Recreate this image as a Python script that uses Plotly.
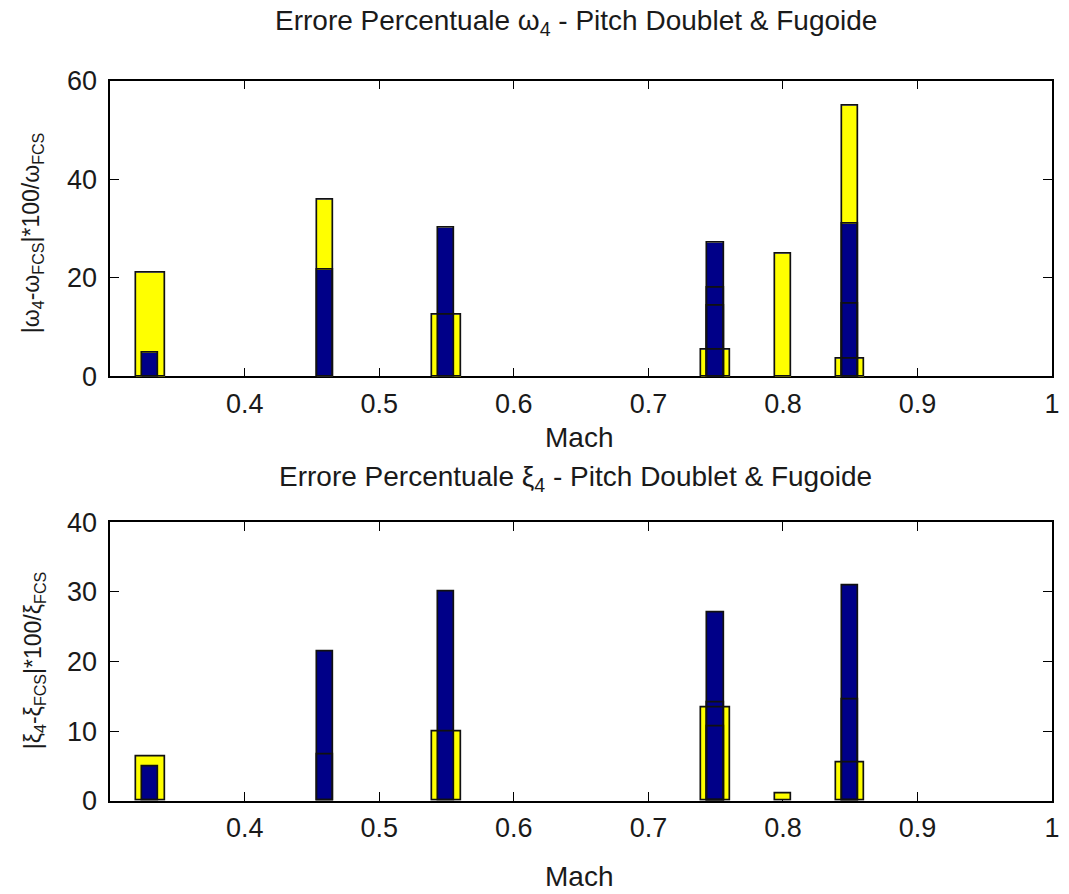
import plotly.graph_objects as go

# Mach numbers of the test points
mach = [0.33, 0.46, 0.55, 0.75, 0.80, 0.85]

# Percentage error on omega_4 (upper panel)
omega_wide = [21.1, None, 12.6, 5.4, None, 3.6]
omega_narrow = [None, 35.8, None, None, 25.0, 55.0]
omega_navy_1 = [4.9, 21.6, 30.2, 27.1, None, 31.0]
omega_navy_2 = [None, None, None, 18.1, None, 14.7]
omega_navy_3 = [None, None, None, 14.3, None, None]

# Percentage error on xi_4 (lower panel)
xi_wide = [6.4, None, 10.0, 13.4, None, 5.5]
xi_narrow = [None, None, None, None, 1.0, None]
xi_navy_1 = [4.9, 21.5, 30.1, 27.0, None, 31.0]
xi_navy_2 = [None, 6.7, None, 14.2, None, 14.6]
xi_navy_3 = [None, None, None, 10.7, None, None]

x_ticks = [0.4, 0.5, 0.6, 0.7, 0.8, 0.9, 1.0]
x_ticktext = ["0.4", "0.5", "0.6", "0.7", "0.8", "0.9", "1"]
omega_ticks = [0, 20, 40, 60]
xi_ticks = [0, 10, 20, 30, 40]

YELLOW = "#FFFF00"
NAVY = "#000088"
EDGE = "#111111"
W_WIDE = 0.021
W_NARROW = 0.012
FONT = "Liberation Sans"
TEXT_COLOR = "#1a1a1a"

fig = go.Figure()


def add_panel(series, xa, ya):
    # faces first, then all outlines on top of every face
    for vals, color, width in series:
        fig.add_trace(go.Bar(x=mach, y=vals, width=width, xaxis=xa, yaxis=ya,
                             marker=dict(color=color, line=dict(width=0)),
                             showlegend=False, hoverinfo="skip"))
    for vals, color, width in series:
        fig.add_trace(go.Bar(x=mach, y=vals, width=width, xaxis=xa, yaxis=ya,
                             marker=dict(color="rgba(0,0,0,0)",
                                         line=dict(width=1.7, color=EDGE)),
                             showlegend=False, hoverinfo="skip"))


add_panel([
    (omega_wide, YELLOW, W_WIDE),
    (omega_narrow, YELLOW, W_NARROW),
    (omega_navy_1, NAVY, W_NARROW),
    (omega_navy_2, NAVY, W_NARROW),
    (omega_navy_3, NAVY, W_NARROW),
], "x", "y")

add_panel([
    (xi_wide, YELLOW, W_WIDE),
    (xi_narrow, YELLOW, W_NARROW),
    (xi_navy_1, NAVY, W_NARROW),
    (xi_navy_2, NAVY, W_NARROW),
    (xi_navy_3, NAVY, W_NARROW),
], "x2", "y2")

axis_common = dict(showline=True, mirror="ticks", linecolor="black", linewidth=1.5,
                   ticks="inside", ticklen=9, tickwidth=1.3, tickcolor="black",
                   showgrid=False, zeroline=False, layer="below traces",
                   tickfont=dict(family=FONT, size=27, color=TEXT_COLOR))

x_dom = [111 / 1069, 1060 / 1069]
fig.update_layout(
    width=1069, height=894,
    margin=dict(l=0, r=0, t=0, b=0),
    paper_bgcolor="white", plot_bgcolor="white",
    barmode="overlay", bargap=0,
    xaxis=dict(domain=x_dom, range=[0.3, 1.0], tickvals=x_ticks, ticktext=x_ticktext,
               anchor="y", ticklabelstandoff=2, **axis_common),
    yaxis=dict(domain=[1 - 374 / 894, 1 - 68 / 894], range=[0, 60], tickvals=omega_ticks,
               anchor="x", ticklabelstandoff=6, **axis_common),
    xaxis2=dict(domain=x_dom, range=[0.3, 1.0], tickvals=x_ticks, ticktext=x_ticktext,
                anchor="y2", ticklabelstandoff=2, **axis_common),
    yaxis2=dict(domain=[1 - 813 / 894, 1 - 525 / 894], range=[0, 40], tickvals=xi_ticks,
                anchor="x2", ticklabelstandoff=6, **axis_common),
)

big_font = dict(family=FONT, size=28, color=TEXT_COLOR)
label_font = dict(family=FONT, size=23, color=TEXT_COLOR)
annotations = [
    dict(text="Errore Percentuale ω<sub>4</sub> - Pitch Doublet & Fugoide",
         x=580 / 1069, y=1.0, yanchor="top", yshift=12, font=big_font),
    dict(text="Errore Percentuale ξ<sub>4</sub> - Pitch Doublet & Fugoide",
         x=580 / 1069, y=1 - 480 / 894, yanchor="middle", font=big_font),
    dict(text="Mach", x=583 / 1069, y=1 - 437 / 894, yanchor="middle", font=big_font),
    dict(text="Mach", x=583 / 1069, y=0.0, yanchor="bottom", yshift=-15, font=big_font),
    dict(text="|ω<sub>4</sub>-ω<sub>FCS</sub>|*100/ω<sub>FCS</sub>",
         x=33 / 1069, y=1 - 225 / 894, yanchor="middle", textangle=-90, font=label_font),
    dict(text="|ξ<sub>4</sub>-ξ<sub>FCS</sub>|*100/ξ<sub>FCS</sub>",
         x=35 / 1069, y=1 - 668 / 894, yanchor="middle", textangle=-90, font=label_font),
]
for a in annotations:
    fig.add_annotation(xref="paper", yref="paper", showarrow=False,
                       xanchor="center", **a)

fig.write_html("out.html")
